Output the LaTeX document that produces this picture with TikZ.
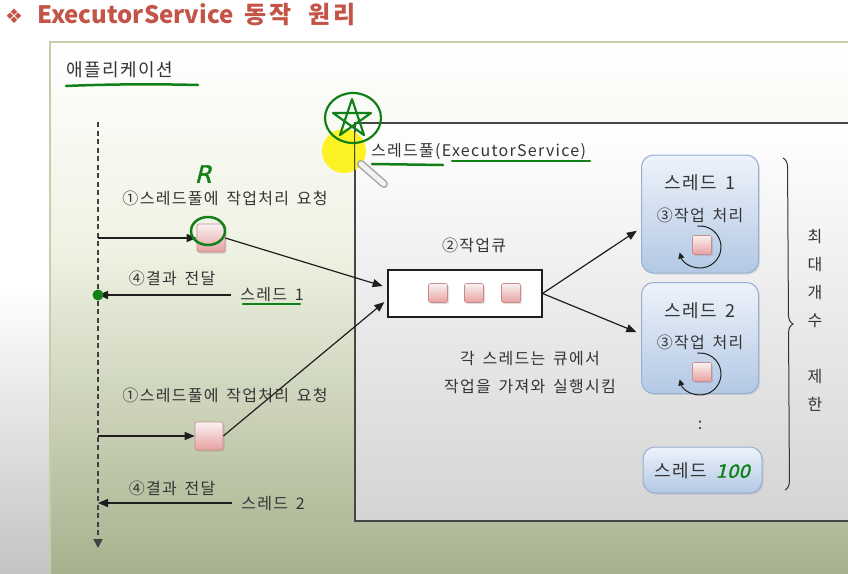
\documentclass[tikz,border=0pt]{standalone}
\usepackage{fontspec}
\setmainfont{Noto Sans CJK KR}[LetterSpace=8, WordSpace=1.6]
\newfontfamily\titlefont{Noto Sans CJK KR}
\newfontfamily\dejavu{DejaVu Sans}
\newfontfamily\hand{DejaVu Sans}[FakeSlant=0.25, FakeBold=1.5]
\usetikzlibrary{arrows.meta,decorations.pathreplacing,shadows,calc}
\definecolor{titlered}{RGB}{196,84,72}
\definecolor{pengreen}{RGB}{18,128,24}
\definecolor{textgray}{RGB}{52,52,52}
\definecolor{linecol}{RGB}{30,30,30}
\definecolor{appedge}{RGB}{200,204,170}
\definecolor{appmid}{RGB}{238,242,226}
\definecolor{appbot}{RGB}{164,174,138}
\definecolor{pagebot}{RGB}{196,196,196}
\definecolor{poolbot}{RGB}{212,212,212}
\definecolor{pooledge}{RGB}{70,70,70}
\definecolor{thrTop}{RGB}{238,243,250}
\definecolor{thrBot}{RGB}{178,200,228}
\definecolor{thrEdge}{RGB}{150,175,210}
\definecolor{taskTop}{RGB}{250,242,242}
\definecolor{taskBot}{RGB}{230,160,160}
\definecolor{taskEdge}{RGB}{200,140,140}
\tikzset{
  txt/.style={text=textgray, font=\fontsize{16}{18}\selectfont, inner sep=0pt},
  arr/.style={draw=linecol, line width=1.2pt, -{Triangle[length=10pt,width=8pt]}},
  task/.style={draw=taskEdge, line width=0.6pt, top color=taskTop, bottom color=taskBot,
    minimum size=28pt, inner sep=0pt, rounded corners=2pt,
    drop shadow={shadow xshift=1.5pt, shadow yshift=-1.5pt, opacity=0.25}},
  qtask/.style={task, minimum size=19pt},
  threadbox/.style={draw=thrEdge, line width=1pt, rounded corners=12pt,
    top color=thrTop, bottom color=thrBot, inner sep=0pt,
    drop shadow={shadow xshift=1.5pt, shadow yshift=-1.5pt, opacity=0.2}},
  pen/.style={draw=pengreen, line width=2.5pt, line cap=round, line join=round},
  loop/.style={draw=linecol, line width=1pt, -{Triangle[length=6pt,width=6pt]}},
}
\begin{document}
\begin{tikzpicture}[x=1pt,y=-1pt]
\clip (0,0) rectangle (848,573);
% page background
\fill[top color=white, bottom color=pagebot, middle color=white] (0,0) rectangle (848,573);
% application area
\fill[top color=white, bottom color=appmid] (50,42) rectangle (860,250);
\fill[top color=appmid, bottom color=appbot] (50,250) rectangle (860,590);
\draw[appedge, line width=1.2pt] (50,42) rectangle (870,600);
% title
\node[text=titlered, font=\dejavu\fontsize{20}{20}\selectfont, inner sep=0pt] (bullet) at (14,16) {❖};
\node[text=titlered, font=\titlefont\fontsize{24}{26}\selectfont\bfseries, anchor=west, inner sep=0pt] (title) at (37,15) {ExecutorService\ \ {\addfontfeatures{LetterSpace=12}동작\ \ 원리}};
% application label
\node[txt, font=\fontsize{18}{20}\selectfont, anchor=west] (app) at (66,70) {애플리케이션};
\draw[pen] (66,86) .. controls (110,84) and (160,84) .. (198,85);
% thread pool box
\node[draw=pooledge, line width=1.3pt, top color=white, bottom color=poolbot,
      minimum width=525pt, minimum height=398pt, inner sep=0pt] (pool) at (617.5,322) {};
\fill[yellow, opacity=0.85] (344,151) circle (22);
\draw[pooledge, line width=1.3pt] (pool.north west) -- (pool.south west);
% pen icon
\coordinate (pena) at (361,164);
\coordinate (penb) at (384,184);
\draw[line width=8pt, gray!70, line cap=round] (pena) -- (penb);
\draw[line width=5pt, gray!10, line cap=round] (pena) -- (penb);
% star annotation
\draw[pen, line width=2.2pt] (353,118) ellipse (28 and 25);
\draw[pen, line width=2.2pt] (352,99) -- (340,135) -- (371,113) -- (333,113) -- (364,135) -- cycle;
\node[txt, anchor=west] (poollbl) at (371,151) {스레드풀(ExecutorService)};
\draw[pen] (372,164) -- (443,165);
\draw[pen] (452,161) -- (590,161);
% lifeline
\coordinate (dtop) at (98,122);
\coordinate (dbot) at (98,548);
\draw[linecol!85, line width=1.6pt, dash pattern=on 5pt off 3.5pt, -{Triangle[length=9pt,width=9pt]}] (dtop) -- (dbot);
% request 1
\node[txt] (req1) at (225,198) {①스레드풀에 작업처리 요청};
\node[task] (rq1) at (211,238) {};
\coordinate (d1) at (98,238);
\draw[arr] (d1) -- (rq1.west);
\draw[pen] (208,231) ellipse (17 and 14);
\node[text=pengreen, font=\hand\fontsize{24}{24}\selectfont, inner sep=0pt] (Rmark) at (203,174) {R};
% result 1
\node[txt] (res1) at (172,278) {④결과 전달};
\node[txt] (th1lbl) at (272,295) {스레드 1};
\draw[pen] (243,304) -- (300,304);
\coordinate (ret1) at (98,295);
\draw[arr, shorten <=9pt] (th1lbl.west) -- (ret1);
\fill[pengreen] (ret1) circle (5.5);
% request 2
\node[txt] (req2) at (225,395) {①스레드풀에 작업처리 요청};
\node[task] (rq2) at (209,436) {};
\coordinate (d2) at (98,436);
\draw[arr] (d2) -- (rq2.west);
% result 2
\node[txt] (res2) at (172,488) {④결과 전달};
\node[txt] (th2lbl) at (273,503) {스레드 2};
\coordinate (ret2) at (98,503);
\draw[arr, shorten <=9pt] (th2lbl.west) -- (ret2);
% queue
\node[txt] (qlbl) at (474,245) {②작업큐};
\node[draw=linecol, line width=1.1pt, fill=white, minimum width=154pt, minimum height=47pt, inner sep=0pt] (queue) at (465,293.5) {};
\node[qtask] (q1) at (438,293) {};
\node[qtask] (q2) at (474,293) {};
\node[qtask] (q3) at (511,293) {};
\draw[arr, shorten >=5pt] (rq1.east) -- ([yshift=6pt]queue.west);
\draw[arr, shorten >=4pt] (rq2.east) -- ([yshift=-6pt]queue.west);
\node[txt] (note1) at (530,359) {각 스레드는 큐에서};
\node[txt] (note2) at (530,387) {작업을 가져와 실행시킴};
% threads
\node[threadbox, minimum width=117pt, minimum height=118pt] (t1) at (700,214) {};
\node[txt, font=\fontsize{18}{20}\selectfont] (t1name) at (700,183) {스레드 1};
\node[txt] (t1job) at (700,215) {③작업 처리};
\node[qtask] (t1task) at (702,245) {};
\draw[loop] ([shift={(-97:21)}]700,247) arc[start angle=-97, end angle=165, radius=21];
\node[threadbox, minimum width=117pt, minimum height=111pt] (t2) at (700,338) {};
\node[txt, font=\fontsize{18}{20}\selectfont] (t2name) at (700,311) {스레드 2};
\node[txt] (t2job) at (700,342) {③작업 처리};
\node[qtask] (t2task) at (702,372) {};
\draw[loop] ([shift={(-97:21)}]700,374) arc[start angle=-97, end angle=165, radius=21];
\node[txt] (dots) at (700,425) {:};
\node[threadbox, minimum width=119pt, minimum height=46pt] (t100) at (702.5,470) {};
\node[txt, font=\fontsize{18}{20}\selectfont] (t100name) at (702,471) {스레드 {\hand\color{pengreen}100}};
\draw[arr, shorten >=5pt] (queue.east) -- ([yshift=-14pt]t1.west);
\draw[arr, shorten >=5pt] (queue.east) -- ([yshift=4pt]t2.west);
% brace
\coordinate (bra) at (783,158);
\coordinate (brb) at (785,490);
\draw[textgray, line width=1pt, decorate, decoration={brace, amplitude=9pt}] (bra) -- (brb);
\node[txt] (v1) at (815,237) {최};
\node[txt] (v2) at (815,265) {대};
\node[txt] (v3) at (815,293) {개};
\node[txt] (v4) at (815,321) {수};
\node[txt] (v5) at (815,377) {제};
\node[txt] (v6) at (815,404) {한};
\end{tikzpicture}
\end{document}
